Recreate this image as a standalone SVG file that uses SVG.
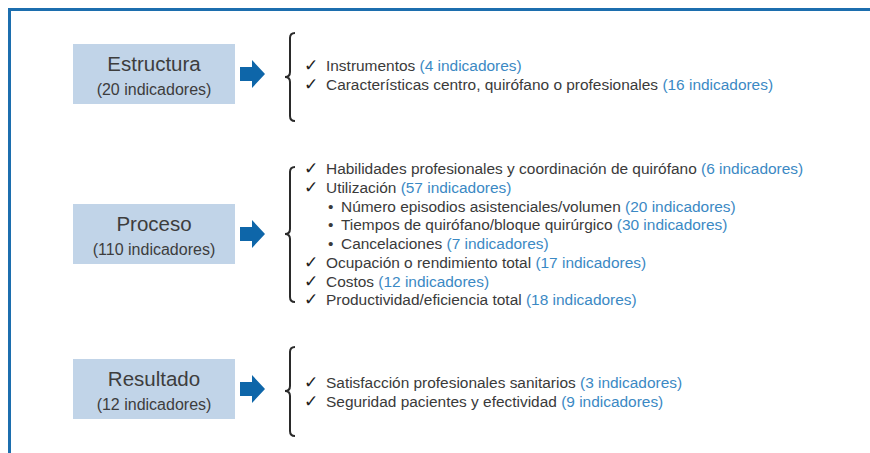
<svg xmlns="http://www.w3.org/2000/svg" width="870" height="453" viewBox="0 0 870 453">
<style>
.box{fill:#c1d4e8}
.t1{font-family:"Liberation Sans",Arial,sans-serif;font-size:20.5px;fill:#3d3d3d;text-anchor:middle}
.t2{font-family:"Liberation Sans",Arial,sans-serif;font-size:16px;fill:#3d3d3d;text-anchor:middle}
.li{font-family:"Liberation Sans",Arial,sans-serif;font-size:15.45px;fill:#3a3a3a}
.b{fill:#3b89c4}
.ck{font-family:"DejaVu Sans",sans-serif;font-size:17px;fill:#222}
.arr{fill:#0e66a9}
.brace{fill:none;stroke:#2a2a2a;stroke-width:2}
</style>
<path d="M9.5,453 V9.5 H870" fill="none" stroke="#1c6eae" stroke-width="3"/>

<g id="estructura">
<rect class="box" x="73" y="44" width="162" height="60"/>
<text class="t1" x="154" y="71">Estructura</text>
<text class="t2" x="154" y="95">(20 indicadores)</text>
</g>
<g id="proceso">
<rect class="box" x="73" y="204" width="162" height="60"/>
<text class="t1" x="154" y="231">Proceso</text>
<text class="t2" x="154" y="255">(110 indicadores)</text>
</g>
<g id="resultado">
<rect class="box" x="73" y="359" width="162" height="60"/>
<text class="t1" x="154" y="386">Resultado</text>
<text class="t2" x="154" y="410">(12 indicadores)</text>
</g>

<g id="connectors">
<path class="arr" d="M240,67 H252 V60 L265,74 L252,88 V81 H240 Z"/>
<path class="arr" d="M240,227 H252 V220 L265,234 L252,248 V241 H240 Z"/>
<path class="arr" d="M240,382 H252 V375 L265,389 L252,403 V396 H240 Z"/>
<path class="brace" d="M295,33 Q290,33 290,38 V72 Q290,77 285,77 Q290,77 290,82 V116 Q290,121 295,121"/>
<path class="brace" d="M295,167 Q290,167 290,172 V229 Q290,234 285,234 Q290,234 290,239 V297 Q290,302 295,302"/>
<path class="brace" d="M295,347 Q290,347 290,352 V386 Q290,391 285,391 Q290,391 290,396 V431 Q290,436 295,436"/>
</g>

<g id="lista-estructura">
<text class="ck" x="304" y="71">✓</text>
<text class="li" x="326" y="71">Instrumentos <tspan class="b">(4 indicadores)</tspan></text>
<text class="ck" x="304" y="90">✓</text>
<text class="li" x="326" y="90">Características centro, quirófano o profesionales <tspan class="b">(16 indicadores)</tspan></text>
</g>

<g id="lista-proceso">
<text class="ck" x="304" y="174">✓</text>
<text class="li" x="326" y="174">Habilidades profesionales y coordinación de quirófano <tspan class="b">(6 indicadores)</tspan></text>
<text class="ck" x="304" y="192.8">✓</text>
<text class="li" x="326" y="192.8">Utilización <tspan class="b">(57 indicadores)</tspan></text>
<text class="li" x="328" y="211.5">•</text>
<text class="li" x="341" y="211.5">Número episodios asistenciales/volumen <tspan class="b">(20 indicadores)</tspan></text>
<text class="li" x="328" y="230.3">•</text>
<text class="li" x="341" y="230.3">Tiempos de quirófano/bloque quirúrgico <tspan class="b">(30 indicadores)</tspan></text>
<text class="li" x="328" y="249">•</text>
<text class="li" x="341" y="249">Cancelaciones <tspan class="b">(7 indicadores)</tspan></text>
<text class="ck" x="304" y="267.8">✓</text>
<text class="li" x="326" y="267.8">Ocupación o rendimiento total <tspan class="b">(17 indicadores)</tspan></text>
<text class="ck" x="304" y="286.6">✓</text>
<text class="li" x="326" y="286.6">Costos <tspan class="b">(12 indicadores)</tspan></text>
<text class="ck" x="304" y="305.4">✓</text>
<text class="li" x="326" y="305.4">Productividad/eficiencia total <tspan class="b">(18 indicadores)</tspan></text>
</g>

<g id="lista-resultado">
<text class="ck" x="304" y="388">✓</text>
<text class="li" x="326" y="388">Satisfacción profesionales sanitarios <tspan class="b">(3 indicadores)</tspan></text>
<text class="ck" x="304" y="407">✓</text>
<text class="li" x="326" y="407">Seguridad pacientes y efectividad <tspan class="b">(9 indicadores)</tspan></text>
</g>
</svg>
